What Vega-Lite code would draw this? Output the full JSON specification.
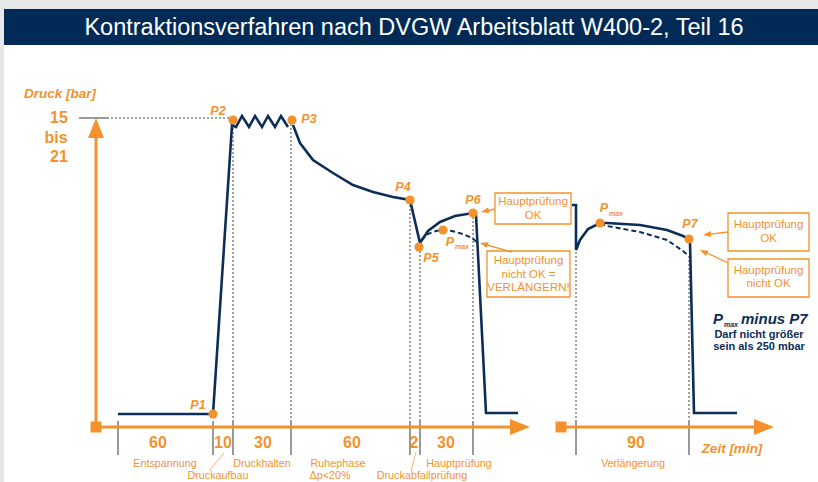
{
  "$schema": "https://vega.github.io/schema/vega-lite/v6.json",
  "width": 818,
  "height": 482,
  "autosize": {"type": "none"},
  "padding": 0,
  "background": "#e6e7e9",
  "config": {"view": {"stroke": null}},
  "encoding": {
    "x": {"field": "x", "type": "quantitative", "scale": {"domain": [0, 818], "nice": false, "zero": false}, "axis": null},
    "y": {"field": "y", "type": "quantitative", "scale": {"domain": [0, 482], "reverse": true, "nice": false, "zero": false}, "axis": null}
  },
  "layer": [
    {
      "data": {"values": [
        {"part": "header", "x": 4, "x2": 818, "y": 9, "y2": 45},
        {"part": "body", "x": 4, "x2": 818, "y": 45, "y2": 482}
      ]},
      "mark": {"type": "rect"},
      "encoding": {
        "x2": {"field": "x2"}, "y2": {"field": "y2"},
        "color": {"field": "part", "type": "nominal", "scale": {"domain": ["header", "body"], "range": ["#012b56", "#ffffff"]}, "legend": null}
      }
    },
    {
      "data": {"values": [
        {"x": 107, "y": 118, "x2": 230, "y2": 118},
        {"x": 233, "y": 124, "x2": 233, "y2": 421},
        {"x": 291, "y": 124, "x2": 291, "y2": 421},
        {"x": 410, "y": 205, "x2": 410, "y2": 421},
        {"x": 420, "y": 251, "x2": 420, "y2": 421},
        {"x": 473, "y": 217, "x2": 473, "y2": 421},
        {"x": 576, "y": 252, "x2": 576, "y2": 421},
        {"x": 689, "y": 256, "x2": 689, "y2": 421}
      ]},
      "mark": {"type": "rule", "color": "#444444", "strokeWidth": 1, "strokeDash": [2, 2]},
      "encoding": {"x2": {"field": "x2"}, "y2": {"field": "y2"}}
    },
    {
      "data": {"values": [
        {"x": 79, "y": 118, "x2": 107, "y2": 118},
        {"x": 118, "y": 421, "x2": 118, "y2": 455},
        {"x": 213, "y": 421, "x2": 213, "y2": 455},
        {"x": 233, "y": 421, "x2": 233, "y2": 455},
        {"x": 291, "y": 421, "x2": 291, "y2": 455},
        {"x": 410, "y": 421, "x2": 410, "y2": 455},
        {"x": 420, "y": 421, "x2": 420, "y2": 455},
        {"x": 473, "y": 421, "x2": 473, "y2": 455},
        {"x": 576, "y": 421, "x2": 576, "y2": 455},
        {"x": 689, "y": 421, "x2": 689, "y2": 455}
      ]},
      "mark": {"type": "rule", "color": "#555555", "strokeWidth": 1.2},
      "encoding": {"x2": {"field": "x2"}, "y2": {"field": "y2"}}
    },
    {
      "data": {"values": [
        {"x": 96, "y": 427, "x2": 96, "y2": 136},
        {"x": 96, "y": 427, "x2": 512, "y2": 427},
        {"x": 560, "y": 427, "x2": 757, "y2": 427}
      ]},
      "mark": {"type": "rule", "color": "#f3922d", "strokeWidth": 3},
      "encoding": {"x2": {"field": "x2"}, "y2": {"field": "y2"}}
    },
    {
      "data": {"values": [
        {"x": 96, "y": 128, "dir": "up"},
        {"x": 520, "y": 427, "dir": "right"},
        {"x": 764, "y": 427, "dir": "right"}
      ]},
      "mark": {"type": "point", "filled": true, "opacity": 1, "color": "#f3922d", "size": 400, "strokeWidth": 0},
      "encoding": {
        "shape": {"field": "dir", "type": "nominal", "scale": {"domain": ["up", "right"], "range": ["M0,-1L0.8,1L-0.8,1Z", "M1,0L-1,-0.8L-1,0.8Z"]}, "legend": null}
      }
    },
    {
      "data": {"values": [{"x": 96, "y": 427}, {"x": 561, "y": 427}]},
      "mark": {"type": "point", "shape": "square", "filled": true, "opacity": 1, "color": "#f3922d", "size": 121, "strokeWidth": 0}
    },
    {
      "data": {"values": [
        {"s": "a", "x": 118, "y": 414}, {"s": "a", "x": 213, "y": 414}, {"s": "a", "x": 232, "y": 125},
        {"s": "a", "x": 236, "y": 127}, {"s": "a", "x": 242, "y": 116}, {"s": "a", "x": 249, "y": 127},
        {"s": "a", "x": 255, "y": 116}, {"s": "a", "x": 262, "y": 127}, {"s": "a", "x": 268, "y": 116},
        {"s": "a", "x": 275, "y": 127}, {"s": "a", "x": 281, "y": 116}, {"s": "a", "x": 288, "y": 127},
        {"s": "a2", "x": 293, "y": 125}, {"s": "a2", "x": 300, "y": 143}, {"s": "a2", "x": 313, "y": 160},
        {"s": "a2", "x": 333, "y": 173}, {"s": "a2", "x": 353, "y": 185}, {"s": "a2", "x": 373, "y": 192},
        {"s": "a2", "x": 393, "y": 197}, {"s": "a2", "x": 410, "y": 200}, {"s": "a2", "x": 420, "y": 243},
        {"s": "a2", "x": 428, "y": 231}, {"s": "a2", "x": 440, "y": 222}, {"s": "a2", "x": 455, "y": 216},
        {"s": "a2", "x": 473, "y": 213}, {"s": "a2", "x": 476, "y": 215}, {"s": "a2", "x": 486, "y": 413},
        {"s": "a2", "x": 518, "y": 413},
        {"s": "b", "x": 572, "y": 205}, {"s": "b", "x": 576, "y": 205}, {"s": "b", "x": 576, "y": 250},
        {"s": "b", "x": 580, "y": 240}, {"s": "b", "x": 588, "y": 229}, {"s": "b", "x": 600, "y": 223},
        {"s": "b", "x": 607, "y": 223}, {"s": "b", "x": 640, "y": 225}, {"s": "b", "x": 667, "y": 230},
        {"s": "b", "x": 683, "y": 236}, {"s": "b", "x": 689, "y": 239}, {"s": "b", "x": 690, "y": 242},
        {"s": "b", "x": 694, "y": 413}, {"s": "b", "x": 737, "y": 413}
      ]},
      "mark": {"type": "line", "color": "#0c2d57", "strokeWidth": 2.6, "strokeJoin": "miter"},
      "encoding": {"detail": {"field": "s"}, "order": {"value": null}}
    },
    {
      "data": {"values": [
        {"s": "c", "x": 421, "y": 240}, {"s": "c", "x": 428, "y": 234}, {"s": "c", "x": 436, "y": 231},
        {"s": "c", "x": 443, "y": 230}, {"s": "c", "x": 452, "y": 231}, {"s": "c", "x": 463, "y": 234},
        {"s": "c", "x": 472, "y": 238}, {"s": "c", "x": 478, "y": 243},
        {"s": "d", "x": 600, "y": 224}, {"s": "d", "x": 607, "y": 226}, {"s": "d", "x": 640, "y": 232},
        {"s": "d", "x": 667, "y": 240}, {"s": "d", "x": 683, "y": 251}, {"s": "d", "x": 689, "y": 256}
      ]},
      "mark": {"type": "line", "color": "#0c2d57", "strokeWidth": 2, "strokeDash": [5, 3]},
      "encoding": {"detail": {"field": "s"}, "order": {"value": null}}
    },
    {
      "data": {"values": [
        {"x": 495, "x2": 571, "y": 193, "y2": 224},
        {"x": 487, "x2": 570, "y": 251, "y2": 297},
        {"x": 728, "x2": 809, "y": 213, "y2": 251},
        {"x": 728, "x2": 809, "y": 259, "y2": 297}
      ]},
      "mark": {"type": "rect", "fill": "#ffffff", "stroke": "#f3922d", "strokeWidth": 1.3},
      "encoding": {"x2": {"field": "x2"}, "y2": {"field": "y2"}}
    },
    {
      "data": {"values": [
        {"x": 495, "y": 209, "x2": 486, "y2": 211},
        {"x": 512, "y": 252, "x2": 485, "y2": 244.5},
        {"x": 728, "y": 232, "x2": 708, "y2": 234.4},
        {"x": 728, "y": 263, "x2": 705, "y2": 252}
      ]},
      "mark": {"type": "rule", "color": "#f3922d", "strokeWidth": 1.3},
      "encoding": {"x2": {"field": "x2"}, "y2": {"field": "y2"}}
    },
    {
      "data": {"values": [
        {"x": 484.9, "y": 211.2, "ang": 168},
        {"x": 483.9, "y": 244.1, "ang": 196},
        {"x": 707, "y": 234.5, "ang": 173},
        {"x": 703.6, "y": 251.7, "ang": 205}
      ]},
      "mark": {"type": "point", "shape": "M1,0L-1,-0.75L-1,0.75Z", "filled": true, "opacity": 1, "color": "#f3922d", "size": 64, "strokeWidth": 0},
      "encoding": {"angle": {"field": "ang", "type": "quantitative", "scale": {"domain": [0, 360], "range": [0, 360]}}}
    },
    {
      "data": {"values": [
        {"x": 209, "y": 471, "x2": 224, "y2": 453},
        {"x": 411, "y": 471, "x2": 416, "y2": 452}
      ]},
      "mark": {"type": "rule", "color": "#f5a869", "strokeWidth": 0.9},
      "encoding": {"x2": {"field": "x2"}, "y2": {"field": "y2"}}
    },
    {
      "data": {"values": [
        {"x": 213, "y": 414}, {"x": 233, "y": 120}, {"x": 292, "y": 120}, {"x": 410, "y": 200},
        {"x": 419, "y": 247}, {"x": 473, "y": 213}, {"x": 443, "y": 230}, {"x": 600, "y": 223}, {"x": 689, "y": 239}
      ]},
      "mark": {"type": "circle", "opacity": 1, "color": "#f3922d", "size": 85}
    },
    {
      "data": {"values": [{"x": 414, "y": 28, "t": "Kontraktionsverfahren nach DVGW Arbeitsblatt W400-2, Teil 16"}]},
      "mark": {"type": "text", "color": "#ffffff", "font": "Liberation Sans", "fontSize": 23.5, "align": "center", "baseline": "middle"},
      "encoding": {"text": {"field": "t"}}
    },
    {
      "data": {"values": [
        {"x": 198, "y": 405, "t": "P1"}, {"x": 218, "y": 111, "t": "P2"}, {"x": 309, "y": 119, "t": "P3"},
        {"x": 403, "y": 187, "t": "P4"}, {"x": 431, "y": 258, "t": "P5"}, {"x": 473, "y": 200, "t": "P6"},
        {"x": 690, "y": 224, "t": "P7"}, {"x": 450, "y": 242, "t": "P"}, {"x": 604, "y": 208, "t": "P"}
      ]},
      "mark": {"type": "text", "color": "#f3922d", "font": "Liberation Sans", "fontSize": 12.5, "fontWeight": "bold", "fontStyle": "italic", "align": "center", "baseline": "middle"},
      "encoding": {"text": {"field": "t"}}
    },
    {
      "data": {"values": [
        {"x": 60, "y": 94, "t": "Druck [bar]"}, {"x": 732, "y": 449, "t": "Zeit [min]"}
      ]},
      "mark": {"type": "text", "color": "#f3922d", "font": "Liberation Sans", "fontSize": 13.5, "fontWeight": "bold", "fontStyle": "italic", "align": "center", "baseline": "middle"},
      "encoding": {"text": {"field": "t"}}
    },
    {
      "data": {"values": [
        {"x": 462, "y": 247, "t": "max"}, {"x": 616, "y": 214, "t": "max"}
      ]},
      "mark": {"type": "text", "color": "#f3922d", "font": "Liberation Sans", "fontSize": 7, "fontWeight": "bold", "fontStyle": "italic", "align": "center", "baseline": "middle"},
      "encoding": {"text": {"field": "t"}}
    },
    {
      "data": {"values": [
        {"x": 59, "y": 118, "t": "15"}, {"x": 56, "y": 138, "t": "bis"}, {"x": 59, "y": 157, "t": "21"},
        {"x": 158, "y": 443, "t": "60"}, {"x": 223, "y": 443, "t": "10"}, {"x": 263, "y": 443, "t": "30"},
        {"x": 352, "y": 443, "t": "60"}, {"x": 414, "y": 443, "t": "2"}, {"x": 446, "y": 443, "t": "30"},
        {"x": 636, "y": 443, "t": "90"}
      ]},
      "mark": {"type": "text", "color": "#f3922d", "font": "Liberation Sans", "fontSize": 16, "fontWeight": "bold", "align": "center", "baseline": "middle"},
      "encoding": {"text": {"field": "t"}}
    },
    {
      "data": {"values": [
        {"x": 165, "y": 464, "t": "Entspannung"}, {"x": 262, "y": 464, "t": "Druckhalten"},
        {"x": 338, "y": 464, "t": "Ruhephase"}, {"x": 330, "y": 476, "t": "Δp<20%"},
        {"x": 459, "y": 464, "t": "Hauptprüfung"}, {"x": 633, "y": 464, "t": "Verlängerung"},
        {"x": 218, "y": 476, "t": "Druckaufbau"}, {"x": 422, "y": 476, "t": "Druckabfallprüfung"}
      ]},
      "mark": {"type": "text", "color": "#f3922d", "font": "Liberation Sans", "fontSize": 10.8, "align": "center", "baseline": "middle"},
      "encoding": {"text": {"field": "t"}}
    },
    {
      "data": {"values": [
        {"x": 533, "y": 202, "t": "Hauptprüfung\nOK"},
        {"x": 528.5, "y": 261, "t": "Hauptprüfung\nnicht OK =\nVERLÄNGERN!"},
        {"x": 768.5, "y": 225, "t": "Hauptprüfung\nOK"},
        {"x": 768.5, "y": 270.5, "t": "Hauptprüfung\nnicht OK"}
      ]},
      "mark": {"type": "text", "color": "#f3922d", "font": "Liberation Sans", "fontSize": 11.5, "align": "center", "baseline": "middle", "lineBreak": "\n", "lineHeight": 13.5},
      "encoding": {"text": {"field": "t"}}
    },
    {
      "data": {"values": [
        {"x": 713, "y": 319, "t": "P"}, {"x": 741, "y": 319, "t": "minus P7"}
      ]},
      "mark": {"type": "text", "color": "#0c2d57", "font": "Liberation Sans", "fontSize": 15, "fontWeight": "bold", "fontStyle": "italic", "align": "left", "baseline": "middle"},
      "encoding": {"text": {"field": "t"}}
    },
    {
      "data": {"values": [{"x": 731, "y": 325, "t": "max"}]},
      "mark": {"type": "text", "color": "#0c2d57", "font": "Liberation Sans", "fontSize": 7, "fontWeight": "bold", "fontStyle": "italic", "align": "center", "baseline": "middle"},
      "encoding": {"text": {"field": "t"}}
    },
    {
      "data": {"values": [
        {"x": 759, "y": 335, "t": "Darf nicht größer"}, {"x": 759, "y": 347, "t": "sein als  250 mbar"}
      ]},
      "mark": {"type": "text", "color": "#0c2d57", "font": "Liberation Sans", "fontSize": 11, "fontWeight": "bold", "align": "center", "baseline": "middle"},
      "encoding": {"text": {"field": "t"}}
    }
  ]
}
